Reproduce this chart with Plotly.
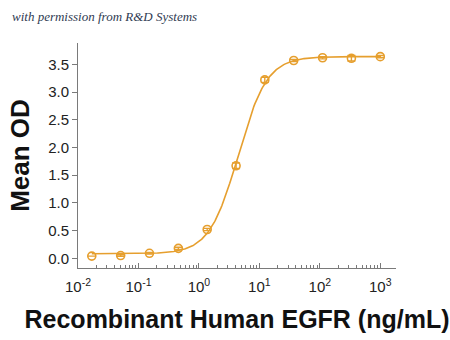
import numpy as np
import plotly.graph_objects as go

# Three-fold serial dilution of recombinant EGFR (ng/mL) and measured optical density
conc = [0.0169, 0.0508, 0.152, 0.457, 1.37, 4.12, 12.3, 37.0, 111.0, 333.0, 1000.0]
mean_od = [0.04, 0.05, 0.09, 0.18, 0.52, 1.67, 3.22, 3.57, 3.62, 3.61, 3.64]
od_err = [0.0, 0.015, 0.015, 0.02, 0.02, 0.05, 0.045, 0.02, 0.02, 0.05, 0.02]

x_tick_vals = [0.01, 0.1, 1, 10, 100, 1000]
x_tick_text = ["10<sup>-2</sup>", "10<sup>-1</sup>", "10<sup>0</sup>",
               "10<sup>1</sup>", "10<sup>2</sup>", "10<sup>3</sup>"]
y_tick_vals = [0.0, 0.5, 1.0, 1.5, 2.0, 2.5, 3.0, 3.5]

ORANGE = "#E69F2E"
AXIS = "#7a7a7a"

# Four-parameter logistic fit: grid over EC50 / Hill slope, bottom & top by least squares
x = np.array(conc)
y = np.array(mean_od)
best = None
for log_ec50 in np.linspace(-0.5, 1.5, 401):
    for hill in np.linspace(0.8, 3.0, 221):
        s = 1.0 / (1.0 + (10 ** log_ec50 / x) ** hill)
        A = np.column_stack([1 - s, s])
        coef, *_ = np.linalg.lstsq(A, y, rcond=None)
        sse = float(np.sum((A @ coef - y) ** 2))
        if best is None or sse < best[0]:
            best = (sse, log_ec50, hill, coef)
_, log_ec50, hill, (bottom, top) = best

fit_x = np.logspace(np.log10(conc[0]), np.log10(conc[-1]), 300)
fit_y = bottom + (top - bottom) / (1.0 + (10 ** log_ec50 / fit_x) ** hill)

fig = go.Figure()
fig.add_trace(go.Scatter(
    x=fit_x, y=fit_y, mode="lines",
    line=dict(color=ORANGE, width=1.6),
    hoverinfo="skip", showlegend=False,
))
fig.add_trace(go.Scatter(
    x=conc, y=mean_od, mode="markers",
    marker=dict(symbol="circle-open", size=8, color=ORANGE, line=dict(width=1.6)),
    error_y=dict(type="data", array=od_err, visible=True, color=ORANGE,
                 thickness=1.4, width=4),
    showlegend=False,
))

minor_vals = [m * 10 ** e for e in range(-2, 3) for m in range(2, 10)] + [2000]

fig.update_layout(
    width=450, height=340,
    margin=dict(l=78, r=54, t=43, b=72),
    paper_bgcolor="white", plot_bgcolor="white",
    font=dict(family="Liberation Sans, Arial, sans-serif", color="#222222", size=15),
    xaxis=dict(
        type="log", range=[-2, 3.26],
        tickvals=x_tick_vals, ticktext=x_tick_text,
        ticks="inside", ticklen=5, tickwidth=1, tickcolor=AXIS,
        minor=dict(tickvals=minor_vals, ticks="inside", ticklen=3,
                   tickwidth=1, tickcolor=AXIS, showgrid=False),
        showline=True, linecolor=AXIS, linewidth=1,
        showgrid=False, zeroline=False,
        tickfont=dict(size=15), ticklabelstandoff=5,
        title=dict(text="<b>Recombinant Human EGFR (ng/mL)</b>",
                   font=dict(size=25, color="#111111"), standoff=16),
    ),
    yaxis=dict(
        range=[-0.175, 3.886],
        tickvals=y_tick_vals, tickformat=".1f",
        ticks="outside", ticklen=5, tickwidth=1, tickcolor=AXIS,
        showline=True, linecolor=AXIS, linewidth=1,
        showgrid=False, zeroline=False,
        tickfont=dict(size=15),
        title=dict(text="<b>Mean OD</b>",
                   font=dict(size=26, color="#111111"), standoff=11),
    ),
    annotations=[dict(
        text="<i>with permission from R&amp;D Systems</i>",
        xref="paper", yref="paper", x=-0.214, y=1.116,
        xanchor="left", yanchor="middle", showarrow=False,
        font=dict(family="Liberation Serif, serif", size=13, color="#2f3b52"),
    )],
)

fig.write_html("out.html")
